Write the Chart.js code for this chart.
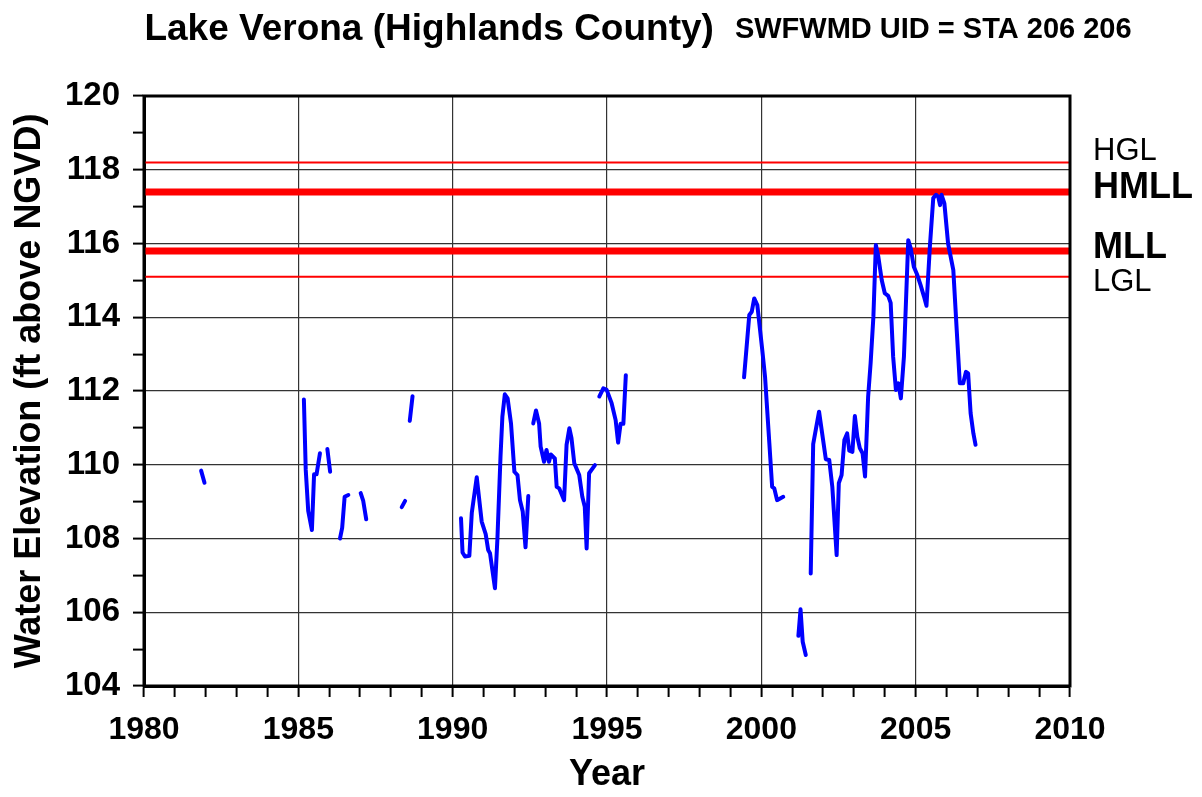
<!DOCTYPE html>
<html lang="en">
<head>
    <meta charset="UTF-8">
    <title>Lake Verona (Highlands County)</title>
    <style>
        body {
            margin: 0;
            padding: 0;
            background-color: #fff;
        }
        #wrap {
            width: 1202px;
            height: 797px;
        }
    </style>
    <script src="https://cdn.jsdelivr.net/npm/chart.js"></script>
</head>
<body>
    <div id="wrap">
        <canvas id="levelChart" width="1202" height="797"></canvas>
    </div>

    <script>
        // Observed lake stage (ft above NGVD); null marks a break in the record
        const obsYear = [
            1981.85, 1981.96, null,
            1985.18, 1985.24, 1985.32, 1985.44, 1985.51, 1985.59, 1985.70, null,
            1985.94, 1986.03, null,
            1986.35, 1986.42, 1986.50, 1986.62, null,
            1987.02, 1987.10, 1987.20, null,
            1988.35, 1988.46, null,
            1988.61, 1988.70, null,
            1990.27, 1990.32, 1990.40, 1990.54, 1990.62, 1990.78, 1990.94, 1991.07, 1991.15, 1991.21,
            1991.37, 1991.45, 1991.55, 1991.61, 1991.69, 1991.78, 1991.89, 1992.00, 1992.10, 1992.18,
            1992.27, 1992.36, 1992.45, null,
            1992.61, 1992.70, 1992.80, 1992.85, 1992.96, 1993.04, 1993.12, 1993.18, 1993.31, 1993.37,
            1993.45, 1993.61, 1993.69, 1993.78, 1993.85, 1993.94, 1994.10, 1994.20, 1994.28, 1994.34,
            1994.42, 1994.61, null,
            1994.75, 1994.88, 1994.99, 1995.15, 1995.28, 1995.36, 1995.44, 1995.53, 1995.61, null,
            1999.44, 1999.61, 1999.69, 1999.77, 1999.87, 2000.03, 2000.12, 2000.26, 2000.35, 2000.42,
            2000.51, 2000.71, null,
            2001.20, 2001.27, 2001.34, 2001.44, null,
            2001.60, 2001.68, 2001.87, 2002.09, 2002.20, 2002.30, 2002.44, 2002.51, 2002.60, 2002.69,
            2002.78, 2002.85, 2002.95, 2003.03, 2003.11, 2003.19, 2003.28, 2003.36, 2003.46, 2003.54,
            2003.63, 2003.71, 2003.79, 2003.90, 2004.00, 2004.11, 2004.19, 2004.27, 2004.36, 2004.44,
            2004.52, 2004.62, 2004.68, 2004.76, 2004.84, 2004.94, 2005.05, 2005.16, 2005.27, 2005.35,
            2005.46, 2005.57, 2005.66, 2005.73, 2005.79, 2005.84, 2005.93, 2006.05, 2006.22, 2006.33,
            2006.43, 2006.54, 2006.63, 2006.70, 2006.78, 2006.87, 2006.94
        ];
        const obsLevel = [
            109.84, 109.51, null,
            111.77, 109.86, 108.75, 108.23, 109.74, 109.74, 110.31, null,
            110.43, 109.81, null,
            108.00, 108.29, 109.13, 109.18, null,
            109.23, 109.03, 108.52, null,
            108.85, 109.02, null,
            111.19, 111.86, null,
            108.55, 107.62, 107.51, 107.53, 108.70, 109.66, 108.46, 108.12, 107.69, 107.60,
            106.65, 108.00, 110.22, 111.30, 111.91, 111.80, 111.12, 109.81, 109.72, 109.04,
            108.73, 107.76, 109.15, null,
            111.12, 111.47, 111.12, 110.49, 110.08, 110.40, 110.08, 110.28, 110.17, 109.40,
            109.36, 109.04, 110.54, 110.99, 110.72, 110.04, 109.72, 109.13, 108.86, 107.73,
            109.77, 109.99, null,
            111.85, 112.07, 112.03, 111.67, 111.21, 110.60, 111.11, 111.11, 112.43, null,
            112.37, 114.06, 114.15, 114.51, 114.33, 113.11, 112.39, 110.58, 109.40, 109.36,
            109.04, 109.13, null,
            105.36, 106.08, 105.20, 104.84, null,
            107.05, 110.56, 111.44, 110.15, 110.13, 109.40, 107.55, 109.50, 109.72, 110.67,
            110.85, 110.38, 110.35, 111.32, 110.76, 110.45, 110.31, 109.68, 111.85, 112.75,
            114.01, 115.96, 115.64, 115.01, 114.65, 114.58, 114.39, 112.93, 112.03, 112.21,
            111.80, 112.93, 114.29, 116.09, 115.87, 115.37, 115.15, 114.87, 114.56, 114.31,
            115.91, 117.23, 117.32, 117.27, 117.04, 117.32, 117.09, 116.00, 115.28, 113.65,
            112.21, 112.21, 112.52, 112.48, 111.40, 110.85, 110.54
        ];

        // Guidance and minimum levels
        const refNames = ['HGL', 'HMLL', 'MLL', 'LGL'];
        const refLevels = [118.2, 117.4, 115.8, 115.1];

        const yearRange = [1980, 2010];
        const levelRange = [104, 120];

        const FONT = '"Liberation Sans", Arial, sans-serif';

        const obsPoints = obsLevel.map((v, i) => ({
            x: obsYear[i] !== null ? obsYear[i] : obsYear[i - 1],
            y: v
        }));

        // guidance levels (names ending in GL) are thin, minimum levels thick
        const isGuidance = name => name.endsWith('GL');

        const refDatasets = refNames.map((name, i) => ({
            label: name,
            data: yearRange.map(yr => ({ x: yr, y: refLevels[i] })),
            borderColor: '#ff0000',
            borderWidth: isGuidance(name) ? 2 : 7,
            pointRadius: 0,
            fill: false
        }));

        // text offsets of the right-hand labels, relative to their line
        const labelShift = { HGL: -11, HMLL: -4, MLL: -3, LGL: 6 };

        const decorations = {
            id: 'decorations',
            afterDatasetsDraw(chart) {
                const { ctx, chartArea } = chart;
                const yScale = chart.scales.y;
                ctx.save();
                // frame around the plot
                ctx.strokeStyle = '#000';
                ctx.lineWidth = 3;
                ctx.strokeRect(chartArea.left, chartArea.top,
                    chartArea.right - chartArea.left, chartArea.bottom - chartArea.top);

                // labels for the reference lines
                ctx.fillStyle = '#000';
                ctx.textAlign = 'left';
                ctx.textBaseline = 'middle';
                refNames.forEach((name, i) => {
                    const y = yScale.getPixelForValue(refLevels[i]) + labelShift[name];
                    ctx.font = isGuidance(name) ? '31px ' + FONT : 'bold 36px ' + FONT;
                    ctx.fillText(name, chartArea.right + 23, y);
                });

                // title in two sizes
                const t1 = 'Lake Verona (Highlands County)';
                const t2 = 'SWFWMD UID = STA 206 206';
                ctx.textBaseline = 'alphabetic';
                ctx.font = 'bold 37px ' + FONT;
                const w1 = ctx.measureText(t1).width;
                ctx.font = 'bold 29px ' + FONT;
                const w2 = ctx.measureText(t2).width;
                const gap = 21;
                let x = 638 - (w1 + gap + w2) / 2;
                ctx.font = 'bold 37px ' + FONT;
                ctx.fillText(t1, x, 40);
                ctx.font = 'bold 29px ' + FONT;
                ctx.fillText(t2, x + w1 + gap, 38);
                ctx.restore();
            }
        };

        new Chart(document.getElementById('levelChart'), {
            type: 'line',
            data: {
                datasets: [
                    {
                        label: 'Water Elevation',
                        data: obsPoints,
                        borderColor: '#0000ff',
                        borderWidth: 4,
                        borderCapStyle: 'round',
                        borderJoinStyle: 'round',
                        pointRadius: 0,
                        spanGaps: false,
                        tension: 0,
                        fill: false
                    },
                    ...refDatasets
                ]
            },
            options: {
                responsive: false,
                animation: false,
                layout: {
                    padding: { top: 96, right: 132, left: 0, bottom: 0 }
                },
                plugins: {
                    legend: { display: false },
                    tooltip: { enabled: false }
                },
                scales: {
                    x: {
                        type: 'linear',
                        min: yearRange[0],
                        max: yearRange[1],
                        afterFit: scale => { scale.height = 111; },
                        ticks: {
                            stepSize: 1,
                            autoSkip: false,
                            maxRotation: 0,
                            padding: 14,
                            color: '#000',
                            font: { family: FONT, size: 32, weight: 'bold' },
                            callback: v => (v % 5 === 0 ? String(v) : '')
                        },
                        grid: {
                            color: c => (c.tick && c.tick.value % 5 === 0 ? '#333' : 'rgba(0,0,0,0)'),
                            lineWidth: 1.2,
                            tickColor: '#000',
                            tickLength: 11,
                            tickWidth: 2
                        },
                        border: { color: '#000', width: 3 },
                        title: {
                            display: true,
                            text: 'Year',
                            color: '#000',
                            padding: { top: 0, bottom: 0 },
                            font: { family: FONT, size: 36, weight: 'bold' }
                        }
                    },
                    y: {
                        min: levelRange[0],
                        max: levelRange[1],
                        afterFit: scale => { scale.width = 144; },
                        ticks: {
                            stepSize: 1,
                            autoSkip: false,
                            padding: 13,
                            color: '#000',
                            font: { family: FONT, size: 33, weight: 'bold' },
                            callback: v => (v % 2 === 0 ? String(v) : '')
                        },
                        grid: {
                            color: c => (c.tick && c.tick.value % 2 === 0 ? '#333' : 'rgba(0,0,0,0)'),
                            lineWidth: 1.2,
                            tickColor: '#000',
                            tickLength: 11,
                            tickWidth: 2
                        },
                        border: { color: '#000', width: 3 },
                        title: {
                            display: true,
                            text: 'Water Elevation (ft above NGVD)',
                            color: '#000',
                            padding: { top: 8, bottom: 0 },
                            font: { family: FONT, size: 36, weight: 'bold' }
                        }
                    }
                }
            },
            plugins: [decorations]
        });
    </script>
</body>
</html>
